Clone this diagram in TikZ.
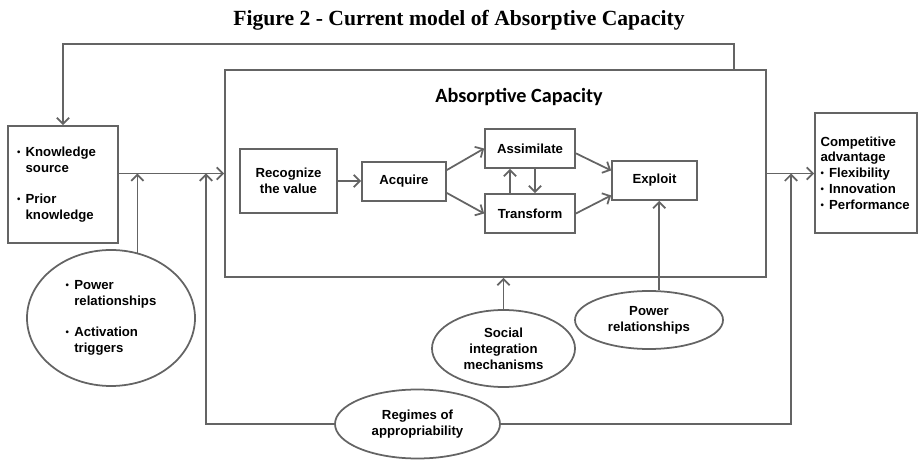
\documentclass[tikz,border=0pt]{standalone}
\usepackage{fontspec}
\setmainfont{Liberation Sans}
\newfontfamily\titlefont{Liberation Serif}
\newfontfamily\acfont{Carlito}
\usepackage{tikz}
\usetikzlibrary{arrows.meta,shapes.geometric}
\definecolor{linegray}{RGB}{100,100,100}
\newcommand{\boxfont}{\fontsize{7.5}{9}\selectfont\bfseries}
\newcommand{\bul}{\raisebox{0.7pt}{\fontsize{5.5}{5.5}\selectfont\textbullet}\hspace{3pt}}
\newcommand{\bulpad}{\hphantom{\bul}}
\hyphenpenalty=10000
\exhyphenpenalty=10000

\begin{document}
\begin{tikzpicture}[
  box/.style={draw=linegray, line width=1pt, inner sep=0pt, font=\boxfont, align=center},
  oval/.style={ellipse, draw=linegray, line width=1pt, inner sep=0pt, font=\boxfont, align=center},
  ln/.style={draw=linegray, line width=1pt},
  arr/.style={ln, -{Straight Barb[length=3.5pt,width=7pt]}}
]
  \useasboundingbox (0,0) rectangle (18.36,9.18);
  \node[font=\titlefont\bfseries\fontsize{12.3}{14}\selectfont] (title) at (9.18,8.78) {Figure 2 - Current model of Absorptive Capacity};

  \node[box, minimum width=10.82cm, minimum height=4.14cm] (ac) at (9.91,5.71) {};
  \node[font=\acfont\bfseries\fontsize{11.5}{13}\selectfont] (actitle) at (10.38,7.24) {Absorptive Capacity};
  \node[box, minimum width=2.2cm, minimum height=2.34cm, text width=1.84cm, align=left] (kbox) at (1.26,5.49) {\bul Knowledge\\\bulpad source\\[9pt]\bul Prior\\\bulpad knowledge};
  \node[box, minimum width=2.04cm, minimum height=2.4cm, text width=1.82cm, align=left] (comp) at (17.32,5.72) {Competitive\\advantage\\\bul Flexibility\\\bul Innovation\\\bul Performance};

  \node[box, minimum width=1.94cm, minimum height=1.28cm] (rec) at (5.77,5.56) {Recognize\\the value};
  \node[box, minimum width=1.68cm, minimum height=0.78cm] (acq) at (8.08,5.55) {Acquire};
  \node[box, minimum width=1.8cm, minimum height=0.78cm] (asm) at (10.6,6.21) {Assimilate};
  \node[box, minimum width=1.8cm, minimum height=0.78cm] (trf) at (10.6,4.91) {Transform};
  \node[box, minimum width=1.7cm, minimum height=0.78cm] (exp) at (13.09,5.57) {Exploit};

  \node[oval, minimum width=3.36cm, minimum height=2.72cm, align=left] (pwr1) at (2.22,2.82) {\bul Power\\\bulpad relationships\\[9pt]\bul Activation\\\bulpad triggers};
  \node[oval, minimum width=2.86cm, minimum height=1.54cm] (soc) at (10.07,2.21) {Social\\integration\\mechanisms};
  \node[oval, minimum width=2.96cm, minimum height=1.16cm] (pwr2) at (12.98,2.78) {Power\\relationships};
  \node[oval, minimum width=3.3cm, minimum height=1.38cm] (reg) at (8.35,0.70) {Regimes of\\appropriability};

  \coordinate (fb) at (14.68,8.30);
  \coordinate (j2) at (4.12,0.70);
  \coordinate (j3) at (15.82,0.70);

  \draw[arr] (ac.north -| fb) -- (fb) -| (kbox.north);
  \draw[arr] (kbox.east |- ac.west) -- (ac.west);
  \draw[arr] (pwr1.68) -- (pwr1.68 |- ac.west);
  \draw[arr] (reg.west) -| (j2 |- ac.west);
  \draw[arr] (ac.east) -- (comp.west |- ac.east);
  \draw[arr] (reg.east) -| (j3 |- ac.east);
  \draw[arr] (soc.north) -- (soc.north |- ac.south);
  \draw[arr] (pwr2.71) -- (pwr2.71 |- exp.south);

  \draw[arr] (rec.east) -- (rec.east -| acq.west);
  \draw[arr] (acq.15) -- (asm.west);
  \draw[arr] (acq.-15) -- (trf.west);
  \draw[arr] (asm.-6) -- (exp.167);
  \draw[arr] (trf.east) -- (exp.199);
  \draw[arr] ([xshift=-0.4cm]trf.north) -- ([xshift=-0.4cm]asm.south);
  \draw[arr] ([xshift=0.1cm]asm.south) -- ([xshift=0.1cm]trf.north);
\end{tikzpicture}
\end{document}
